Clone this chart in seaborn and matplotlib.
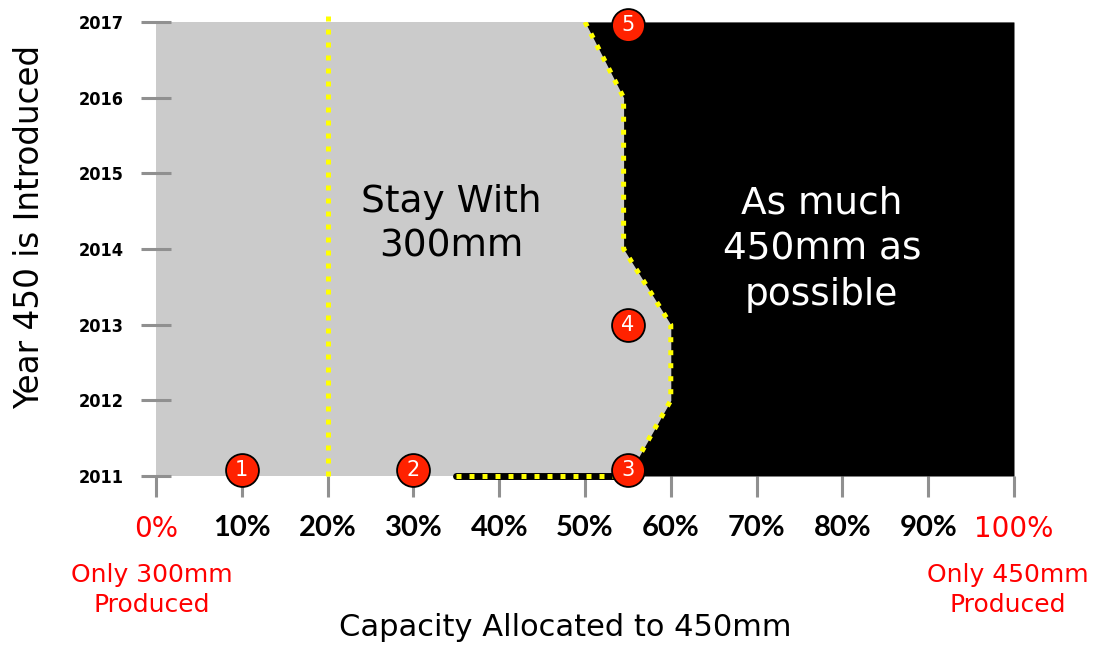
import matplotlib
matplotlib.use("Agg")
import matplotlib.pyplot as plt
import seaborn as sns
import pandas as pd

# Boundary between the two capacity strategies
boundary_pct = [50, 54.5, 54.5, 60, 60, 55]
boundary_year = [2017, 2016, 2014, 2013, 2012, 2011]

# Bottom segment of the boundary at the first year
floor_pct = [35, 55]
floor_year = [2011, 2011]

# Reference divider at 20%
divider_pct = [20, 20]
divider_year = [2011, 2017.13]

# Numbered scenario markers
marker_pct = [10, 30, 55, 55, 55]
marker_year = [2011.08, 2011.08, 2011.08, 2013.0, 2016.96]
marker_labels = ["1", "2", "3", "4", "5"]

x_ticks = [0, 10, 20, 30, 40, 50, 60, 70, 80, 90, 100]
x_tick_labels = ["0%", "10%", "20%", "30%", "40%", "50%", "60%", "70%", "80%", "90%", "100%"]
y_ticks = [2011, 2012, 2013, 2014, 2015, 2016, 2017]

sns.set_theme(style="white")
plt.rcParams["font.family"] = ["DejaVu Sans"]

GRAY = "#cbcbcb"
YELLOW = "#ffff00"
RED = "#ff2200"
DOTS = (0, (1, 1.6))
DOT_LW = 3.6

fig = plt.figure(figsize=(10.97, 6.48), dpi=100)
ax = fig.add_axes([156 / 1097, 1 - 476 / 648, (1014 - 156) / 1097, (476 - 22) / 648])
ax.set_facecolor(GRAY)
for s in ax.spines.values():
    s.set_visible(False)

ax.set_xlim(0, 100)
ax.set_ylim(2011, 2017)

# Region where 450mm capacity is maximised
ax.fill_betweenx(boundary_year, boundary_pct, 100, color="black", lw=0, zorder=1)

# Boundary lines
floor_df = pd.DataFrame({"pct": floor_pct, "year": floor_year})
sns.lineplot(data=floor_df, x="pct", y="year", ax=ax, color="black", lw=5,
             sort=False, estimator=None, zorder=3)
ax.lines[-1].set_clip_on(False)
ax.plot(floor_pct, floor_year, color=YELLOW, lw=DOT_LW, ls=DOTS,
        zorder=4, clip_on=False)
bdf = pd.DataFrame({"pct": boundary_pct, "year": boundary_year})
sns.lineplot(data=bdf, x="pct", y="year", ax=ax, color=YELLOW, lw=DOT_LW,
             sort=False, estimator=None, zorder=4)
ax.lines[-1].set_linestyle(DOTS)
ax.plot(divider_pct, divider_year, color=YELLOW, lw=DOT_LW, ls=DOTS,
        zorder=4, clip_on=False)

# Scenario markers
mdf = pd.DataFrame({"pct": marker_pct, "year": marker_year})
sns.scatterplot(data=mdf, x="pct", y="year", ax=ax, s=560, color=RED,
                edgecolor="black", linewidth=1.3, zorder=6, clip_on=False)
for x, y, t in zip(marker_pct, marker_year, marker_labels):
    ax.text(x, y, t, color="white", fontsize=15, ha="center", va="center",
            zorder=7)

# Region annotations
ax.text(34.4, 2014.33, "Stay With\n300mm", fontsize=27, ha="center",
        va="center", color="black", linespacing=1.3)
ax.text(77.6, 2014.0, "As much\n450mm as\npossible", fontsize=27,
        ha="center", va="center", color="white", linespacing=1.35)

# Ticks
ax.set_xticks(x_ticks)
ax.set_xticklabels(x_tick_labels)
ax.set_yticks(y_ticks)
ax.set_yticklabels([str(y) for y in y_ticks])
ax.tick_params(axis="x", direction="out", length=15, width=2.2,
               color="#909090", pad=13, bottom=True)
ax.tick_params(axis="y", direction="inout", length=21, width=2.2,
               color="#909090", pad=13, left=True)
for lbl in ax.get_xticklabels():
    if lbl.get_text() in ("0%", "100%"):
        lbl.set_color("red")
        lbl.set_fontfamily(["DejaVu Sans"])
        lbl.set_fontsize(20)
    else:
        lbl.set_color("black")
        lbl.set_fontfamily(["Lato", "DejaVu Sans"])
        lbl.set_fontweight("bold")
        lbl.set_fontsize(21)
for lbl in ax.get_yticklabels():
    lbl.set_fontfamily(["DejaVu Sans"])
    lbl.set_fontstretch("condensed")
    lbl.set_fontweight("bold")
    lbl.set_fontsize(13)
    lbl.set_color("black")

ax.set_xlabel("")
ax.set_ylabel("")

# End-point explanations and axis titles
fig.text(152 / 1097, 1 - 590 / 648, "Only 300mm\nProduced", color="red",
         fontsize=18, ha="center", va="center", linespacing=1.3)
fig.text(1008 / 1097, 1 - 590 / 648, "Only 450mm\nProduced", color="red",
         fontsize=18, ha="center", va="center", linespacing=1.3)
fig.text(565 / 1097, 1 - 627 / 648, "Capacity Allocated to 450mm",
         fontsize=22, ha="center", va="center", color="black")
fig.text(30 / 1097, 1 - 227 / 648, "Year 450 is Introduced", fontsize=23.5,
         rotation=90, ha="center", va="center", color="black")

fig.savefig("out.png", dpi=100, facecolor="white")
